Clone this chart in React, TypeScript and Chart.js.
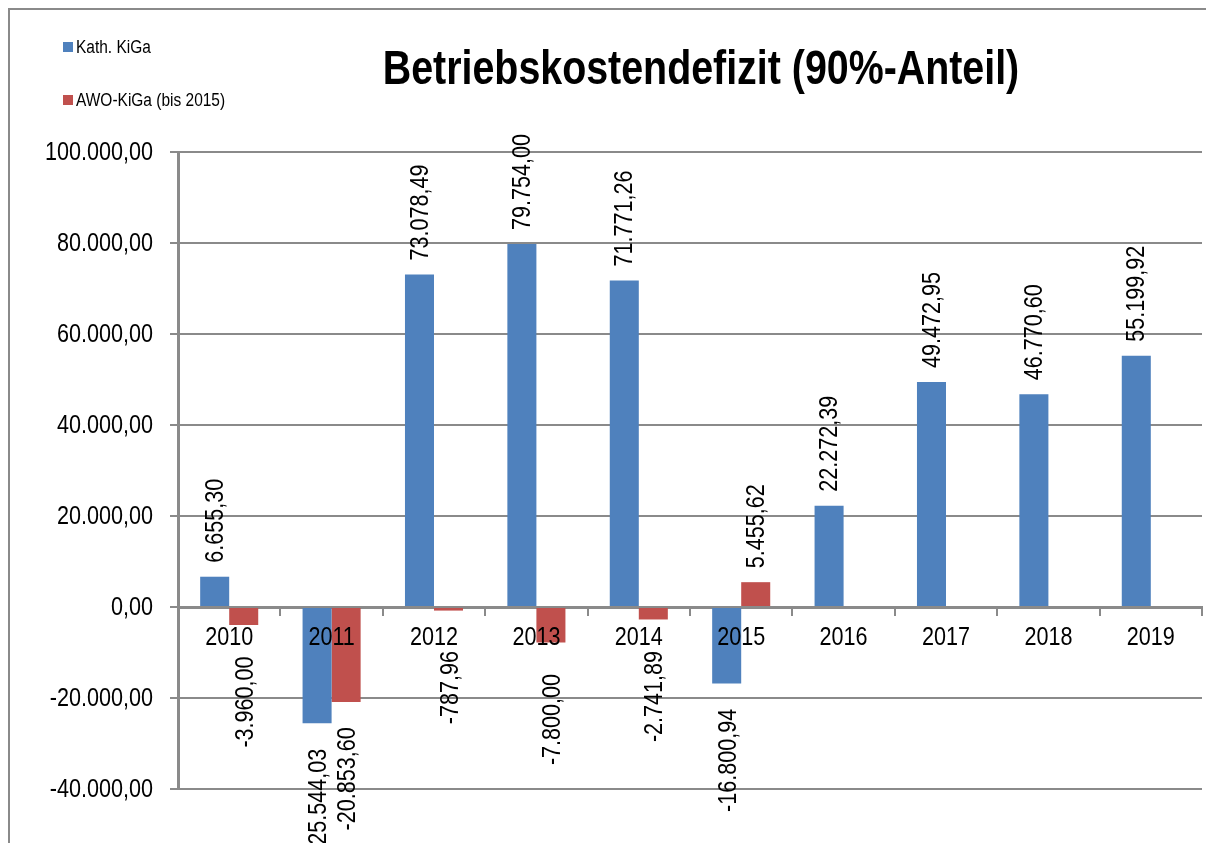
import React, { useEffect, useRef } from "react";
import { Chart, registerables } from "chart.js";

Chart.register(...registerables);

const categories = ["2010", "2011", "2012", "2013", "2014", "2015", "2016", "2017", "2018", "2019"];
const kathValues = [6655.3, -25544.03, 73078.49, 79754.0, 71771.26, -16800.94, 22272.39, 49472.95, 46770.6, 55199.92];
const awoValues: (number | null)[] = [-3960.0, -20853.6, -787.96, -7800.0, -2741.89, 5455.62, null, null, null, null];
const seriesNames = ["Kath. KiGa", "AWO-KiGa (bis 2015)"];
const titleText = "Betriebskostendefizit (90%-Anteil)";
const yMin = -40000;
const yMax = 100000;
const yStep = 20000;

const FONT = "'Liberation Sans', Arial, sans-serif";
const NARROW = 0.83;
const BLUE = "#4F81BD";
const RED = "#C0504D";
const GRID = "#8a8a8a";

function fmt(v: number): string {
  const neg = v < 0;
  const a = Math.abs(v);
  const fixed = a.toFixed(2);
  const [ip, dp] = fixed.split(".");
  const withDots = ip.replace(/\B(?=(\d{3})+(?!\d))/g, ".");
  return (neg ? "-" : "") + withDots + "," + dp;
}

function narrowText(ctx: CanvasRenderingContext2D, txt: string, x: number, y: number, align: CanvasTextAlign, sx: number, rotate = 0) {
  ctx.save();
  ctx.translate(x, y);
  if (rotate) ctx.rotate(rotate);
  ctx.scale(sx, 1);
  ctx.textAlign = align;
  ctx.fillText(txt, 0, 0);
  ctx.restore();
}

const decorPlugin = {
  id: "decor",
  afterDraw(chart: any) {
    const ctx: CanvasRenderingContext2D = chart.ctx;
    const yScale = chart.scales.y;
    const xScale = chart.scales.x;
    const zeroY = yScale.getPixelForValue(0);
    ctx.save();
    ctx.fillStyle = "#000";
    ctx.textBaseline = "middle";
    // y tick labels
    ctx.font = `26px ${FONT}`;
    yScale.ticks.forEach((t: any) => {
      const py = yScale.getPixelForValue(t.value);
      narrowText(ctx, fmt(t.value), yScale.right - 25, py + 1, "right", NARROW);
    });
    // x category labels
    categories.forEach((c, i) => {
      const px = xScale.getPixelForValue(i);
      narrowText(ctx, c, px, zeroY + 31, "center", NARROW);
    });
    // data labels
    ctx.font = `26px ${FONT}`;
    chart.data.datasets.forEach((ds: any, di: number) => {
      const meta = chart.getDatasetMeta(di);
      meta.data.forEach((bar: any, i: number) => {
        const v = ds.data[i];
        if (v === null || v === undefined) return;
        const txt = fmt(v);
        const len = ctx.measureText(txt).width * NARROW;
        if (v >= 0) {
          narrowText(ctx, txt, bar.x + 1, bar.y - 14, "left", NARROW, -Math.PI / 2);
        } else {
          const center = bar.y + 77;
          narrowText(ctx, txt, bar.x + 2, center + len / 2, "left", NARROW, -Math.PI / 2);
        }
      });
    });
    // title
    ctx.font = `bold 48px ${FONT}`;
    narrowText(ctx, titleText, 691, 61, "center", 0.82);
    // legend
    const colors = [BLUE, RED];
    const ys = [37, 90];
    ctx.font = `18px ${FONT}`;
    seriesNames.forEach((name, i) => {
      ctx.fillStyle = colors[i];
      ctx.fillRect(53, ys[i] - 5, 10, 10);
      ctx.fillStyle = "#000";
      narrowText(ctx, name, 66, ys[i] + 1, "left", 0.86);
    });
    ctx.restore();
  },
};

export default function App() {
  const ref = useRef<HTMLCanvasElement | null>(null);
  useEffect(() => {
    document.documentElement.style.overflow = "hidden";
    const chart = new Chart(ref.current as HTMLCanvasElement, {
      type: "bar",
      data: {
        labels: categories,
        datasets: [
          { label: seriesNames[0], data: kathValues, backgroundColor: BLUE, categoryPercentage: 0.567, barPercentage: 1 },
          { label: seriesNames[1], data: awoValues, backgroundColor: RED, categoryPercentage: 0.567, barPercentage: 1 },
        ],
      },
      options: {
        animation: false,
        responsive: false,
        maintainAspectRatio: false,
        layout: { padding: { left: 0, right: 12, top: 142, bottom: 54 } },
        plugins: { legend: { display: false }, title: { display: false }, tooltip: { enabled: false } },
        scales: {
          x: {
            position: { y: 0 } as any,
            z: 1,
            offset: true,
            grid: { offset: true, drawOnChartArea: false, drawTicks: true, tickLength: 7, color: GRID, lineWidth: 2 },
            border: { display: true, color: GRID, width: 3 },
            ticks: { display: false },
          },
          y: {
            min: yMin,
            max: yMax,
            afterFit: (s: any) => { s.width = 168; },
            ticks: { stepSize: yStep, display: false },
            grid: { color: GRID, lineWidth: 2, drawTicks: true, tickLength: 8 },
            border: { display: true, color: GRID, width: 3 },
          },
        },
      },
      plugins: [decorPlugin],
    });
    return () => chart.destroy();
  }, []);
  return (
    <div style={{ borderLeft: "2px solid #8a8a8a", borderTop: "2px solid #8a8a8a", width: 1204, height: 833, overflow: "hidden" }}>
      <canvas ref={ref} width={1204} height={833} style={{ display: "block" }} />
    </div>
  );
}
